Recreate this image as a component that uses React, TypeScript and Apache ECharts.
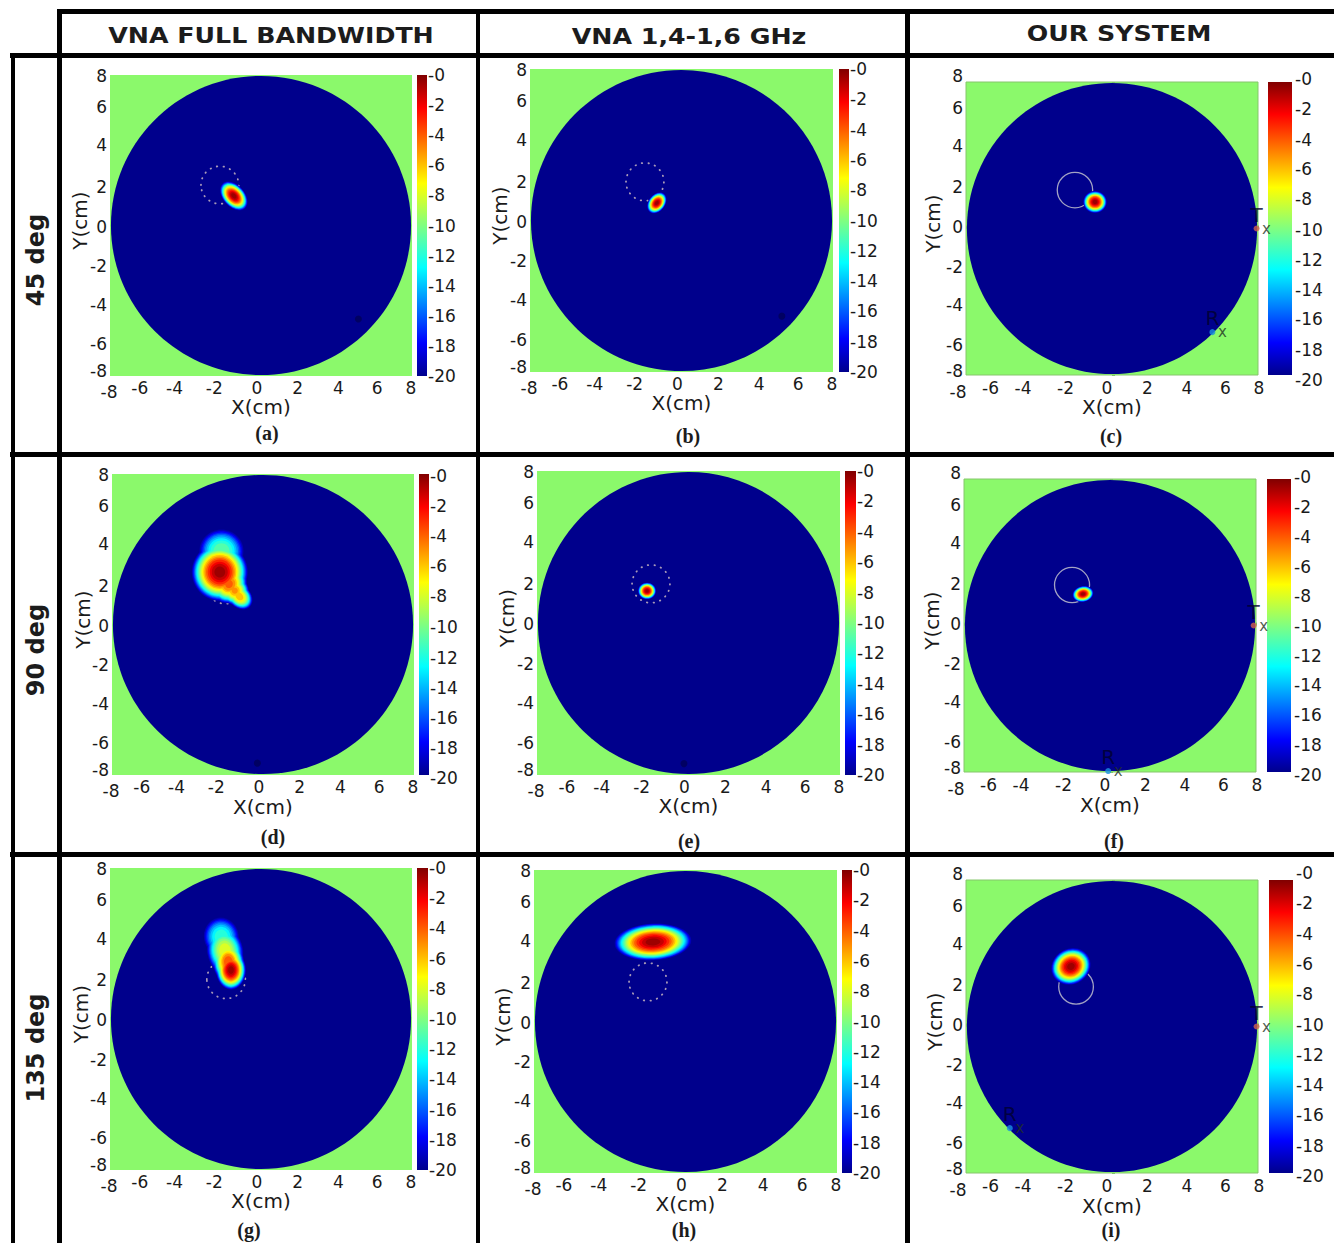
import React, { useEffect, useRef } from "react";
import * as echarts from "echarts";

// ---------- data ----------
const axisTicks = [-8, -6, -4, -2, 0, 2, 4, 6, 8];
const colorbarTicks = [-20, -18, -16, -14, -12, -10, -8, -6, -4, -2, 0];
const columnTitles = ["VNA FULL BANDWIDTH", "VNA 1,4-1,6 GHz", "OUR SYSTEM"];
const rowTitles = ["45 deg", "90 deg", "135 deg"];
const captions = ["(a)", "(b)", "(c)", "(d)", "(e)", "(f)", "(g)", "(h)", "(i)"];
const contourLevels = [-19.5, -19, -18, -17, -16, -15, -14, -13, -12, -11, -10, -9, -8, -7, -6, -5, -4, -3, -2, -1.2, -0.5];

// lobes: [x, y, radiusA, radiusB, tiltDeg, peakDb]
const lobesA = [[-1.44, 1.57, 0.9, 0.58, -48, 0]];
const lobesB = [[-1.3, 0.93, 0.62, 0.44, 52, 0]];
const lobesC = [[-0.93, 1.45, 0.65, 0.6, 0, 0]];
const lobesD = [
  [-2.29, 2.79, 1.5, 1.55, 0, 0],
  [-2.2, 3.9, 1.2, 1.17, 0, -10],
  [-1.8, 2.15, 0.95, 1.05, -25, -3.5],
  [-1.5, 1.8, 0.78, 0.75, -40, -4.5],
  [-1.25, 1.5, 0.8, 0.6, -45, -5],
];
const lobesE = [[-2.19, 1.69, 0.48, 0.44, 0, 0]];
const lobesF = [[-1.48, 1.72, 0.58, 0.43, 12, 0]];
const lobesG = [
  [-1.59, 2.59, 0.8, 1.05, 0, 0],
  [-1.72, 3.0, 0.84, 1.15, 5, -3],
  [-1.9, 3.6, 0.97, 1.3, 10, -7],
  [-2.1, 4.35, 0.95, 1.05, 10, -11],
];
const lobesH = [[-1.72, 4.2, 2.05, 0.98, 3, 0]];
const lobesI = [[-2.25, 3.28, 1.12, 0.98, 28, 0]];
const panelLobes = [lobesA, lobesB, lobesC, lobesD, lobesE, lobesF, lobesG, lobesH, lobesI];

// target circle: [x, y, radius]
const targetCircles = [
  [-2.18, 2.15, 1.0], [-1.93, 2.04, 1.0], [-2.03, 2.1, 0.97],
  [-2.0, 2.1, 1.0], [-1.98, 2.06, 1.0], [-2.08, 2.21, 0.96],
  [-1.85, 2.1, 1.02], [-1.98, 2.09, 1.0], [-1.97, 2.17, 0.95],
];
const diskRadius = [7.95];
// antennas only drawn in the right-hand column: panel index -> points
const transmitters: Record<number, number[]> = { 2: [7.92, 0], 5: [7.87, 0], 8: [7.92, 0] };
const receivers: Record<number, number[]> = { 2: [5.5, -5.66], 5: [-0.1, -7.95], 8: [-5.6, -5.55] };
// faint receiver spots seen in the other panels
const faintSpots: Record<number, number[]> = { 0: [5.16, -4.97], 1: [5.3, -5.05], 3: [-0.3, -7.37], 4: [-0.24, -7.4] };

// ---------- layout ----------
// [left, top, width, height, barLeft, barWidth]
const boxes = [
  [110, 75, 302, 301, 417, 10],
  [530, 69, 303, 303, 839, 10],
  [966, 82, 292, 293, 1268, 24],
  [112, 474, 302, 301, 419, 10],
  [537, 471, 303, 304, 845, 11],
  [964, 479, 292, 293, 1267, 24],
  [110, 868, 302, 302, 417, 11],
  [534, 870, 303, 303, 842, 10],
  [966, 880, 292, 293, 1269, 24],
];
const xNameGaps = [21, 21, 22, 22, 21, 23, 21, 21, 23];
const yNameGaps = [20, 20, 23, 19, 20, 22, 19, 21, 21];
const captionSpots = [[267, 433], [688, 436], [1111, 436], [273, 837], [689, 841], [1114, 841], [249, 1230], [684, 1230], [1111, 1230]];
const columnTitleSpots = [[271, 36], [689, 37], [1119, 34]];
const rowTitleSpots = [[36, 260], [36, 650], [36, 1048]];
// label nudges in tick order, -8 ... 8
const xShiftNarrow = [-1, -8, -11, -9, -4, -1, 2, 3, -1];
const xShiftWide = [-8, -12, -16, -10, -5, -1, 2, 4, 1];
const yShiftNarrow = [-5, 6, 4, 3, 1, -1, -5, -6, 1];
const yShiftWide = [-4, 7, 3, 2, -2, -5, -9, -11, -6];
// colour bar label nudges in tick order, -20 ... 0
const barZero = [0, 0, 0, 0, 0, 0, 0, 0, 0, 0, 0];
const barShiftC = [5, 4, 3, 3, 2, 1, 0, -1, -1, -2, -3];
const barShiftD = [3, 3, 3, 3, 3, 2, 2, 2, 2, 2, 2];
const barShiftF = [3, 2, 2, 1, 1, 0, 0, 0, -1, -1, -2];
const barShiftI = [3, 2, 1, 0, -1, -2, -3, -4, -5, -6, -7];
const barShifts = [barZero, barZero, barShiftC, barShiftD, barZero, barShiftF, barZero, barZero, barShiftI];

const GREEN = "#8bf96b";
const FONT = "DejaVu Sans";
const TEXT = "#1a1a1a";
const jetOffsets = [0, 0.11, 0.36, 0.5, 0.64, 0.89, 1];
const jetColors = ["#800000", "#ff0000", "#ffff00", "#80ff80", "#00ffff", "#0000ff", "#00008c"];

function jet(level: number) {
  const t = Math.min(1, Math.max(0, -level / 20));
  let i = 0;
  while (i < jetOffsets.length - 2 && t > jetOffsets[i + 1]) i++;
  const f = (t - jetOffsets[i]) / (jetOffsets[i + 1] - jetOffsets[i]);
  const a = echarts.color.parse(jetColors[i]);
  const b = echarts.color.parse(jetColors[i + 1]);
  return `rgb(${[0, 1, 2].map((k) => Math.round(a[k] + (b[k] - a[k]) * f)).join(",")})`;
}

function ellipseItem(_: any, api: any) {
  const c = api.coord([api.value(0), api.value(1)]);
  const s = api.size([api.value(2), api.value(3)]);
  return {
    type: "ellipse",
    x: c[0],
    y: c[1],
    rotation: (api.value(4) * Math.PI) / 180,
    shape: { cx: 0, cy: 0, rx: s[0], ry: s[1] },
    style: { fill: jet(api.value(5)) },
  };
}

function blobData(lobes: number[][]) {
  const out: number[][] = [];
  contourLevels.forEach((level) => {
    lobes.forEach(([x, y, a, b, tilt, peak]) => {
      if (level >= peak) return;
      const f = Math.pow((peak - level) / (peak + 20), 0.45);
      out.push([x, y, a * f, b * f, tilt, level]);
    });
  });
  return out;
}

function buildOption() {
  const grid: any[] = [];
  const xAxis: any[] = [];
  const yAxis: any[] = [];
  const series: any[] = [];

  const style = { fontFamily: FONT, fontSize: 17, color: TEXT };
  const richX = (shifts: number[]) => {
    const rich: any = {};
    shifts.forEach((d, i) => {
      // the -8 label sits a little lower so it clears the y axis's -8
      rich["k" + i] = { ...style, padding: [i === 0 ? 4 : 0, d < 0 ? -2 * d : 0, 0, d > 0 ? 2 * d : 0] };
    });
    return rich;
  };
  const richY = (shifts: number[]) => {
    const rich: any = {};
    shifts.forEach((d, i) => {
      rich["k" + i] = { ...style, padding: [d > 0 ? 2 * d : 0, 0, d < 0 ? -2 * d : 0, 0] };
    });
    return rich;
  };

  boxes.forEach((b, p) => {
    const wide = p % 3 === 2;
    const [left, top, width, height, barLeft, barWidth] = b;
    const g0 = grid.length;
    grid.push({
      left, top, width, height, show: true, backgroundColor: GREEN,
      borderColor: wide ? "#86c66c" : GREEN, borderWidth: wide ? 1 : 0, containLabel: false,
    });
    grid.push({ left: barLeft, top, width: barWidth, height, show: false });

    const tick = { show: wide, inside: true, length: 3, lineStyle: { color: "#7cc468", width: 1 } };
    xAxis.push({
      gridIndex: g0, type: "value", min: -8, max: 8, interval: 2, position: "bottom",
      name: "X(cm)", nameLocation: "middle", nameGap: xNameGaps[p], nameMoveOverlap: false,
      nameTextStyle: { fontFamily: FONT, fontSize: 20, color: TEXT },
      axisLine: { show: false }, axisTick: tick, splitLine: { show: false },
      axisLabel: {
        margin: wide ? 4 : 3, showMinLabel: true, showMaxLabel: true,
        formatter: (v: number) => `{k${axisTicks.indexOf(v)}|${v}}`,
        rich: richX(wide ? xShiftWide : xShiftNarrow),
      },
    });
    yAxis.push({
      gridIndex: g0, type: "value", min: -8, max: 8, interval: 2, position: "left",
      name: "Y(cm)", nameLocation: "middle", nameGap: yNameGaps[p], nameRotate: 90, nameMoveOverlap: false,
      nameTextStyle: { fontFamily: FONT, fontSize: 20, color: TEXT, padding: [0, 0, 0, 10] },
      axisLine: { show: false }, axisTick: tick, splitLine: { show: false },
      axisLabel: {
        margin: 3, showMinLabel: true, showMaxLabel: true,
        formatter: (v: number) => `{k${axisTicks.indexOf(v)}|${v}}`,
        rich: richY(wide ? yShiftWide : yShiftNarrow),
      },
    });
    xAxis.push({ gridIndex: g0 + 1, type: "value", min: 0, max: 1, show: false });
    yAxis.push({
      gridIndex: g0 + 1, type: "value", min: -20, max: 0, interval: 2, position: "right",
      axisLine: { show: false }, axisTick: { show: false }, splitLine: { show: false },
      axisLabel: {
        margin: wide ? 3 : 1, showMinLabel: true, showMaxLabel: true,
        formatter: (v: number) => `{k${colorbarTicks.indexOf(v)}|${v === 0 ? "-0" : v}}`,
        rich: richY(barShifts[p]),
      },
    });

    const base = { xAxisIndex: g0, yAxisIndex: g0, silent: true, clip: false };
    series.push({
      ...base, type: "custom", coordinateSystem: "cartesian2d",
      data: [[0, 0, diskRadius[0], diskRadius[0], 0, -20]],
      renderItem: ellipseItem,
    });
    if (faintSpots[p]) {
      series.push({
        ...base, type: "scatter", symbolSize: 7, z: 3,
        itemStyle: { color: "#000058" }, data: [faintSpots[p]],
      });
    }
    series.push({
      ...base, type: "custom", coordinateSystem: "cartesian2d", data: [targetCircles[p]],
      renderItem: (_: any, api: any) => {
        const c = api.coord([api.value(0), api.value(1)]);
        const s = api.size([api.value(2), api.value(2)]);
        return {
          type: "ellipse", x: c[0], y: c[1],
          shape: { cx: 0, cy: 0, rx: s[0], ry: s[1] },
          style: wide
            ? { fill: "none", stroke: "#a3a3c4", lineWidth: 1.3 }
            : { fill: "none", stroke: "#a99ab8", lineWidth: 1.8, lineDash: [0.5, 6.1], lineCap: "round" },
        };
      },
    });
    series.push({
      ...base, type: "custom", coordinateSystem: "cartesian2d",
      data: blobData(panelLobes[p]), renderItem: ellipseItem,
    });
    if (transmitters[p]) {
      const dots = [
        { value: transmitters[p], name: "T", color: "#d2604c" },
        { value: receivers[p], name: "R", color: "#1a90e0" },
      ];
      dots.forEach((d) => {
        series.push({
          ...base, type: "scatter", symbolSize: 6, z: 5,
          itemStyle: { color: d.color },
          data: [d.value],
          label: {
            show: true, position: "top", distance: 1, formatter: d.name,
            fontFamily: FONT, fontSize: 20, color: "#00002c",
          },
        });
        series.push({
          ...base, type: "scatter", symbolSize: 1, z: 5,
          itemStyle: { color: "rgba(0,0,0,0)" },
          data: [d.value],
          label: {
            show: true, position: "right", distance: 5, formatter: "x",
            fontFamily: FONT, fontSize: 15, color: "#223322",
          },
        });
      });
    }
    series.push({
      type: "custom", coordinateSystem: "cartesian2d", xAxisIndex: g0 + 1, yAxisIndex: g0 + 1, silent: true,
      data: [[0, -20, 1, 0]],
      renderItem: (_: any, api: any) => {
        const a = api.coord([api.value(0), api.value(1)]);
        const c = api.coord([api.value(2), api.value(3)]);
        return {
          type: "rect",
          shape: { x: a[0], y: c[1], width: c[0] - a[0], height: a[1] - c[1] },
          style: {
            fill: new echarts.graphic.LinearGradient(0, 0, 0, 1,
              jetOffsets.map((offset, i) => ({ offset, color: jetColors[i] }))),
          },
        };
      },
    });
  });

  const bar = (x: number, y: number, w: number, h: number) => ({
    type: "rect", shape: { x, y, width: w, height: h }, style: { fill: "#000" }, z: 50,
  });
  const graphic: any[] = [
    bar(57, 9, 1277, 5),
    bar(10, 53, 1324, 5),
    bar(10, 452, 1324, 5),
    bar(10, 852, 1324, 5),
    bar(11, 53, 4, 1190),
    bar(57, 9, 5, 1234),
    bar(476, 9, 4, 1234),
    bar(905, 9, 5, 1234),
  ];
  columnTitles.forEach((t, i) => graphic.push({
    type: "text", x: columnTitleSpots[i][0], y: columnTitleSpots[i][1], scaleX: 1.15, z: 60,
    style: {
      text: t, fontFamily: FONT, fontWeight: "bold", fontSize: 22, fill: "#1c1c1c",
      align: "center", verticalAlign: "middle",
    },
  }));
  rowTitles.forEach((t, i) => graphic.push({
    type: "text", x: rowTitleSpots[i][0], y: rowTitleSpots[i][1], rotation: Math.PI / 2, z: 60,
    style: {
      text: t, fontFamily: FONT, fontWeight: "bold", fontSize: 24, fill: "#1c1c1c",
      align: "center", verticalAlign: "middle",
    },
  }));
  captions.forEach((t, i) => graphic.push({
    type: "text", x: captionSpots[i][0], y: captionSpots[i][1], z: 60,
    style: {
      text: t, fontFamily: "Liberation Serif", fontWeight: "bold", fontSize: 20, fill: "#1c1c1c",
      align: "center", verticalAlign: "middle",
    },
  }));

  return { animation: false, backgroundColor: "#fff", grid, xAxis, yAxis, series, graphic };
}

export default function App() {
  const ref = useRef<HTMLDivElement>(null);
  useEffect(() => {
    const chart = echarts.init(ref.current!, undefined, { renderer: "svg" });
    chart.setOption(buildOption() as any);
    return () => chart.dispose();
  }, []);
  return <div ref={ref} style={{ position: "absolute", left: 0, top: 0, width: 1334, height: 1243 }} />;
}
